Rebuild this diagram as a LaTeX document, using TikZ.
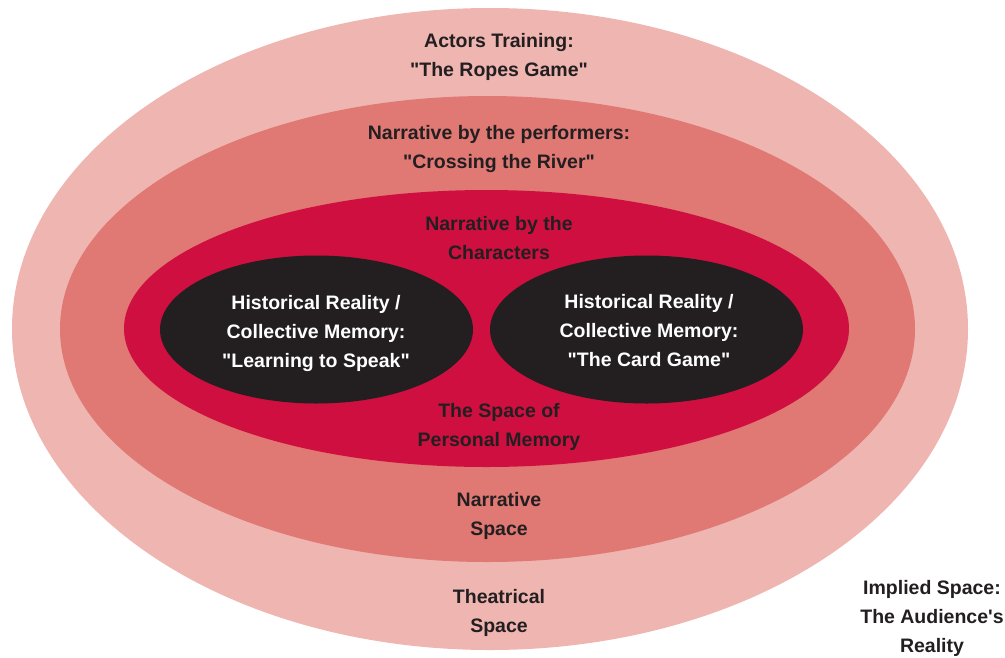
\documentclass[tikz,border=0pt]{standalone}
\usepackage{fontspec}
\setmainfont{Liberation Sans}
\font\rawq="Liberation Sans/B" at 19.5pt
\newcommand{\qq}{{\rawq\char34}}
\newcommand{\apos}{{\rawq\char39}}
\definecolor{ringA}{HTML}{EFB5B1}
\definecolor{ringB}{HTML}{E07874}
\definecolor{ringC}{HTML}{CE0F40}
\definecolor{coreD}{HTML}{231F20}
\definecolor{inkD}{HTML}{231F20}
\tikzset{
  lbl/.style={align=center, font=\bfseries\fontsize{19.5}{29}\selectfont, text=inkD, inner sep=0pt},
  wlbl/.style={lbl, text=white}
}
\begin{document}
\begin{tikzpicture}[x=1pt,y=-1pt]
\useasboundingbox (0,0) rectangle (1005,657);
\fill[ringA] (490,329) ellipse [x radius=478, y radius=321];
\fill[ringB] (487.5,329) ellipse [x radius=427.5, y radius=233];
\fill[ringC] (486.5,328.5) ellipse [x radius=362.5, y radius=138.5];
\fill[coreD] (316.5,329.5) ellipse [x radius=156.5, y radius=74];
\fill[coreD] (646.5,329.5) ellipse [x radius=156.5, y radius=74];
\node[lbl] (actors) at (499,57) {Actors Training:\\\qq The Ropes Game\qq};
\node[lbl] (perf) at (499,149) {Narrative by the performers:\\\qq Crossing the River\qq};
\node[lbl] (chars) at (499,238) {Narrative by the\\Characters};
\node[wlbl] (learn) at (316,333) {Historical Reality /\\Collective Memory:\\\qq Learning to Speak\qq};
\node[wlbl] (card) at (649,331) {Historical Reality /\\Collective Memory:\\\qq The Card Game\qq};
\node[lbl] (pers) at (499,427) {The Space of\\Personal Memory};
\node[lbl] (narr) at (499,516) {Narrative\\Space};
\node[lbl] (theat) at (499,613) {Theatrical\\Space};
\node[lbl] (impl) at (932,618) {Implied Space:\\The Audience\apos s\\Reality};
\end{tikzpicture}
\end{document}
